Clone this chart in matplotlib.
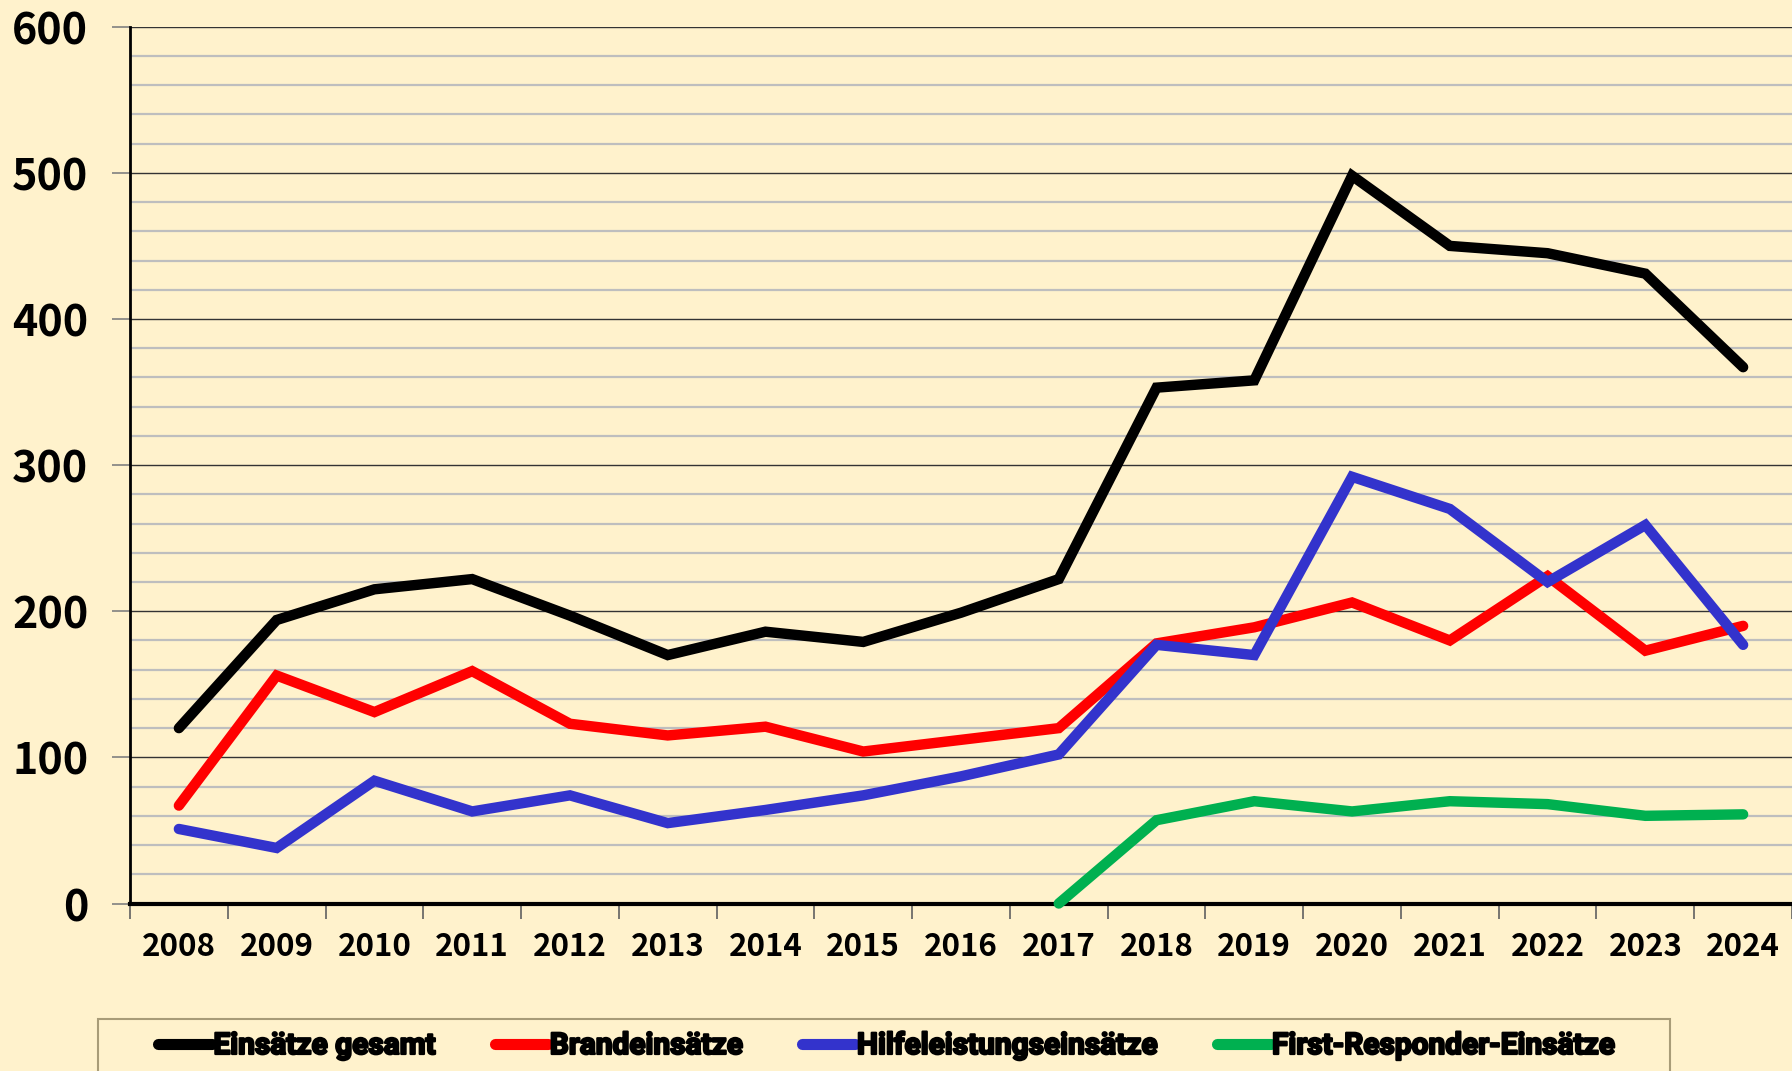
import matplotlib
matplotlib.use("Agg")
import matplotlib.pyplot as plt
import matplotlib.patches as patches
import matplotlib.patheffects as pe
from matplotlib.ticker import MultipleLocator, FixedLocator, NullFormatter

# Values
years = ["2008", "2009", "2010", "2011", "2012", "2013", "2014", "2015", "2016",
         "2017", "2018", "2019", "2020", "2021", "2022", "2023", "2024"]
gesamt = [120, 194, 215, 222, 197, 170, 186, 179, 199, 222, 353, 358, 498, 450, 445, 431, 367]
brand = [67, 156, 131, 159, 123, 115, 121, 104, 112, 120, 178, 189, 206, 180, 224, 173, 190]
hilfe = [51, 38, 84, 63, 74, 55, 64, 74, 87, 102, 177, 170, 292, 270, 220, 259, 177]
first_years = ["2017", "2018", "2019", "2020", "2021", "2022", "2023", "2024"]
first_resp = [0, 57, 70, 63, 70, 68, 60, 61]

labels = ["Einsätze gesamt", "Brandeinsätze", "Hilfeleistungseinsätze", "First-Responder-Einsätze"]
colors = ["#000000", "#FF0000", "#3333CC", "#00B050"]

bg = "#FFF2CC"

fig = plt.figure(figsize=(17.92, 10.71), dpi=100, facecolor=bg)
ax = fig.add_axes([130 / 1792, 1 - 903.5 / 1071, 1 - 130 / 1792, (903.5 - 26.7) / 1071])
ax.set_facecolor(bg)

x = list(range(len(years)))
x_first = [years.index(y) for y in first_years]
series = [(x, gesamt), (x, brand), (x, hilfe), (x_first, first_resp)]

for (xs, ys), lab, col in zip(series, labels, colors):
    ax.plot(xs, ys, color=col, lw=7.5, label=lab, solid_capstyle="round",
            solid_joinstyle="miter", zorder=3, clip_on=False)

ax.set_xlim(-0.5, len(years) - 0.5)
ax.set_ylim(0, 600)

# gridlines: dark at 100s, light grey at 20s
ax.yaxis.set_major_locator(MultipleLocator(100))
ax.yaxis.set_minor_locator(MultipleLocator(20))
ax.grid(which="major", axis="y", color="#333333", lw=1.0, zorder=1)
ax.grid(which="minor", axis="y", color="#BEBEBE", lw=1.6, zorder=0)
ax.tick_params(axis="y", which="minor", length=0)
ax.tick_params(axis="y", which="major", length=13, width=1.2, color="#808080", pad=17,
               labelsize=31)

# category boundary ticks on x, labels centred under the years
ax.xaxis.set_major_locator(FixedLocator(x))
ax.set_xticklabels(years)
ax.xaxis.set_minor_locator(FixedLocator([i - 0.5 for i in range(len(years) + 1)]))
ax.xaxis.set_minor_formatter(NullFormatter())
ax.tick_params(axis="x", which="major", length=0, pad=20, labelsize=22.5)
ax.tick_params(axis="x", which="minor", length=11, width=1.2, color="#606060")

for lbl in ax.get_xticklabels() + ax.get_yticklabels():
    lbl.set_fontfamily(["Noto Sans CJK JP", "DejaVu Sans"])
    lbl.set_fontweight("bold")

ax.spines["top"].set_visible(False)
ax.spines["right"].set_visible(False)
ax.spines["left"].set_linewidth(2)
ax.spines["bottom"].set_linewidth(3)

# legend box at the bottom
box = patches.Rectangle((98 / 1792, -0.1), (1670 - 98) / 1792, 0.1 + 1 - 1019 / 1071,
                        transform=fig.transFigure, fill=False, edgecolor="#A89C78", lw=1.5)
fig.patches.append(box)

leg = fig.legend(loc="center", bbox_to_anchor=(0.495, 1 - 1046 / 1071), ncol=4,
                 frameon=False, handlelength=1.8, handletextpad=0.05, columnspacing=1.95,
                 prop={"family": "Roboto", "weight": "bold", "size": 21.5})
for t in leg.get_texts():
    # the original legend text is very heavy
    t.set_path_effects([pe.withStroke(linewidth=1.6, foreground="black")])
for h in leg.get_lines():
    h.set_linewidth(8)
    h.set_solid_capstyle("round")

fig.savefig("out.png", dpi=100, facecolor=bg)
